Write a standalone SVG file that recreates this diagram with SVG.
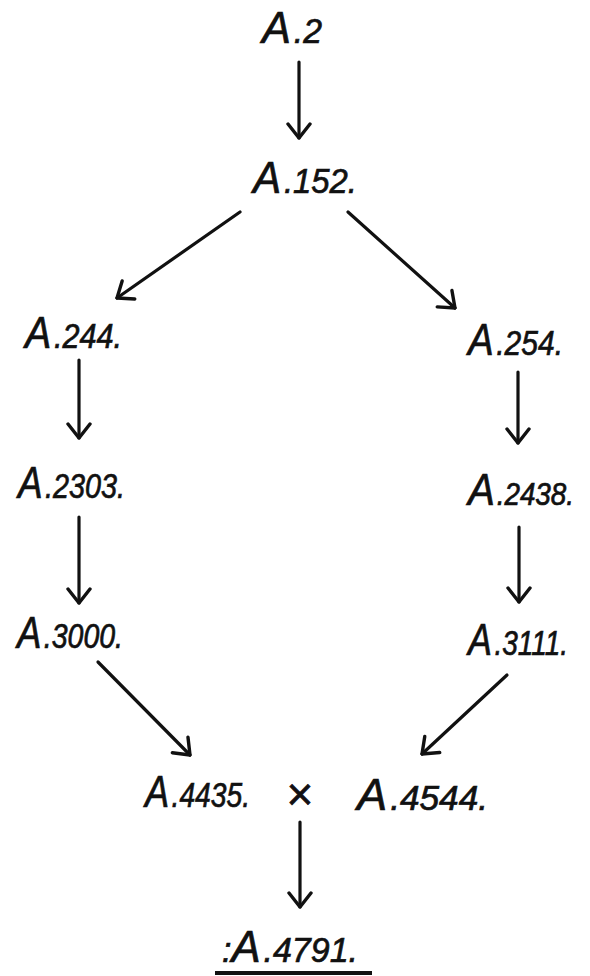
<svg xmlns="http://www.w3.org/2000/svg" width="590" height="976" viewBox="0 0 590 976">
<style>
.lbl{font-family:"Liberation Sans","DejaVu Sans",sans-serif;font-style:italic;font-size:35px;fill:#111;stroke:#111;stroke-width:0.7px;}
.cap{font-size:45px;}
.con{stroke:#111;stroke-width:3.2;fill:none;stroke-linecap:round;}
</style>
<defs>
<marker id="ah" viewBox="0 0 18 26" refX="16" refY="13" markerWidth="18" markerHeight="26" markerUnits="userSpaceOnUse" orient="auto">
<path d="M2,2 L16,13 L2,24" fill="none" stroke="#111" stroke-width="3.4" stroke-linecap="round" stroke-linejoin="round"/>
</marker>
</defs>
<rect width="590" height="976" fill="#fff"/>
<g id="connectors">
<line class="con" x1="299" y1="62" x2="299" y2="138" marker-end="url(#ah)"/>
<line class="con" x1="240" y1="212" x2="117" y2="298" marker-end="url(#ah)"/>
<line class="con" x1="348" y1="212" x2="455" y2="308" marker-end="url(#ah)"/>
<line class="con" x1="79" y1="360" x2="79" y2="438" marker-end="url(#ah)"/>
<line class="con" x1="518" y1="372" x2="518" y2="443" marker-end="url(#ah)"/>
<line class="con" x1="79" y1="517" x2="79" y2="603" marker-end="url(#ah)"/>
<line class="con" x1="519" y1="527" x2="519" y2="602" marker-end="url(#ah)"/>
<line class="con" x1="98" y1="662" x2="190" y2="755" marker-end="url(#ah)"/>
<line class="con" x1="507" y1="675" x2="422" y2="754" marker-end="url(#ah)"/>
<line class="con" x1="300" y1="822" x2="300" y2="907" marker-end="url(#ah)"/>
</g>
<g id="n_A2"><text class="lbl" x="262" y="43" textLength="60" lengthAdjust="spacingAndGlyphs"><tspan class="cap">A</tspan><tspan dx="3">.2</tspan></text></g>
<g id="n_A152"><text class="lbl" x="253" y="193" textLength="104" lengthAdjust="spacingAndGlyphs"><tspan class="cap">A</tspan><tspan dx="3">.152.</tspan></text></g>
<g id="n_A244"><text class="lbl" x="25" y="348" textLength="97" lengthAdjust="spacingAndGlyphs"><tspan class="cap">A</tspan><tspan dx="3">.244.</tspan></text></g>
<g id="n_A254"><text class="lbl" x="468" y="355" textLength="95" lengthAdjust="spacingAndGlyphs"><tspan class="cap">A</tspan><tspan dx="3">.254.</tspan></text></g>
<g id="n_A2303"><text class="lbl" x="18" y="498" textLength="107" lengthAdjust="spacingAndGlyphs"><tspan class="cap">A</tspan><tspan dx="3">.2303.</tspan></text></g>
<g id="n_A2438"><text class="lbl" x="468" y="505" textLength="106" lengthAdjust="spacingAndGlyphs" style="font-size:31px"><tspan class="cap">A</tspan><tspan dx="2">.2438.</tspan></text></g>
<g id="n_A3000"><text class="lbl" x="17" y="648" textLength="106" lengthAdjust="spacingAndGlyphs"><tspan class="cap">A</tspan><tspan dx="3">.3000.</tspan></text></g>
<g id="n_A3111"><text class="lbl" x="468" y="655" textLength="100" lengthAdjust="spacingAndGlyphs"><tspan class="cap">A</tspan><tspan dx="3">.3111.</tspan></text></g>
<g id="n_A4435"><text class="lbl" x="145" y="807" textLength="105" lengthAdjust="spacingAndGlyphs"><tspan class="cap">A</tspan><tspan dx="3">.4435.</tspan></text></g>
<g id="n_cross"><text class="lbl" x="300" y="810" text-anchor="middle" style="font-style:normal;font-size:46px">×</text></g>
<g id="n_A4544"><text class="lbl" x="357" y="810" textLength="131" lengthAdjust="spacingAndGlyphs"><tspan class="cap">A</tspan><tspan dx="3">.4544.</tspan></text></g>
<g id="n_A4791"><text class="lbl" x="222" y="962" textLength="136" lengthAdjust="spacingAndGlyphs">:<tspan class="cap">A</tspan><tspan dx="3">.4791.</tspan></text>
<line x1="215" y1="973" x2="372" y2="973" stroke="#111" stroke-width="4"/></g>
</svg>
